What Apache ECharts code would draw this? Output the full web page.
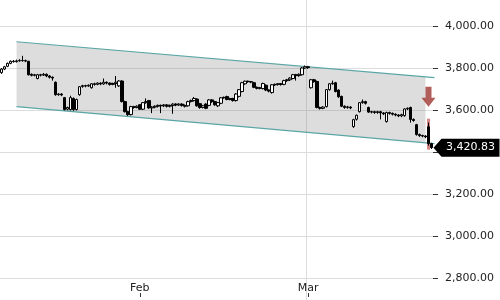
<!DOCTYPE html>
<html>
<head>
<meta charset="utf-8">
<script src="https://cdn.jsdelivr.net/npm/echarts@6/dist/echarts.min.js"></script>
<style>html,body{margin:0;padding:0;background:#fff}#c{width:500px;height:300px}</style>
</head>
<body>
<div id="c"></div>
<script>
// ---- data ----
// 12-hour candles, starting Jan 9
var startDate = [2021, 0, 9];
var candleCount = 144;
var categories = [];
(function(){
  for (var i = 0; i < candleCount; i++) {
    var d = new Date(Date.UTC(startDate[0], startDate[1], startDate[2], i * 12));
    var mm = ('0' + (d.getUTCMonth() + 1)).slice(-2), dd = ('0' + d.getUTCDate()).slice(-2), hh = ('0' + d.getUTCHours()).slice(-2);
    categories.push(d.getUTCFullYear() + '-' + mm + '-' + dd + ' ' + hh + ':00');
  }
})();
var monthNames = ['Jan','Feb','Mar','Apr','May','Jun','Jul','Aug','Sep','Oct','Nov','Dec'];

var opens = [3778,3795,3808,3822,3832,3830,3834,3836,3835,3832,3770,3765,3750,3768,3766,3770,3762,3756,3732,3673,
3676,3659,3604,3602,3655,3602,3673,3712,3716,3714,3706,3725,3722,3728,3724,3732,3728,3722,3726,3715,
3738,3640,3592,3578,3616,3612,3625,3604,3635,3645,3610,3614,3618,3622,3620,3624,3618,3622,3628,3624,
3628,3622,3620,3640,3645,3652,3630,3612,3628,3622,3648,3640,3620,3632,3658,3664,3650,3655,3645,3665,
3688,3725,3737,3735,3730,3708,3703,3702,3718,3695,3683,3720,3722,3725,3722,3740,3744,3750,3768,3764,
3768,3800,3806,3706,3744,3736,3612,3608,3616,3697,3725,3730,3695,3665,3618,3612,3614,3521,3556,3592,
3635,3640,3612,3590,3592,3588,3592,3586,3545,3588,3584,3580,3576,3572,3573,3605,3612,3555,3530,3483,
3478,3476,3520,3440];
var closes = [3795,3806,3822,3832,3830,3834,3836,3835,3833,3768,3765,3768,3768,3766,3770,3762,3756,3752,3673,3676,
3672,3602,3612,3659,3602,3650,3711,3716,3714,3718,3725,3722,3728,3724,3732,3728,3722,3726,3732,3738,
3640,3592,3578,3616,3612,3618,3604,3635,3640,3610,3614,3618,3622,3620,3624,3618,3622,3628,3624,3628,
3622,3618,3640,3645,3655,3620,3612,3620,3608,3648,3640,3625,3635,3658,3660,3650,3655,3645,3676,3697,
3730,3737,3735,3733,3708,3703,3706,3726,3695,3690,3720,3722,3725,3722,3740,3744,3752,3768,3764,3770,
3800,3806,3802,3744,3735,3612,3608,3614,3697,3725,3728,3688,3663,3618,3612,3615,3610,3554,3575,3635,
3640,3632,3590,3592,3588,3592,3586,3582,3588,3584,3580,3576,3572,3578,3605,3608,3555,3550,3483,3478,
3476,3472,3440,3420.83];
var lows = [3772,3790,3804,3818,3826,3826,3830,3830,3828,3764,3760,3760,3746,3760,3762,3756,3750,3740,3668,3668,
3666,3598,3598,3598,3596,3598,3668,3706,3708,3710,3702,3716,3718,3718,3720,3722,3716,3718,3706,3710,
3636,3588,3572,3574,3606,3608,3600,3600,3630,3606,3585,3608,3612,3585,3614,3612,3612,3582,3618,3620,
3616,3612,3616,3636,3640,3616,3606,3608,3604,3618,3634,3620,3614,3628,3654,3646,3646,3640,3640,3660,
3684,3720,3730,3728,3704,3698,3698,3698,3690,3684,3678,3714,3716,3716,3718,3734,3738,3746,3740,3758,
3764,3796,3796,3702,3730,3608,3602,3604,3612,3692,3720,3684,3658,3614,3606,3606,3604,3515,3550,3588,
3630,3626,3586,3584,3582,3582,3555,3576,3540,3578,3574,3570,3566,3566,3568,3600,3540,3544,3478,3472,
3470,3466,3430,3414];
var highs = [3800,3810,3826,3836,3838,3840,3842,3858,3840,3834,3774,3772,3772,3772,3776,3774,3766,3760,3736,3680,
3680,3662,3616,3668,3660,3654,3714,3720,3720,3722,3728,3730,3732,3732,3750,3736,3732,3730,3762,3742,
3742,3644,3596,3620,3620,3622,3628,3638,3655,3648,3618,3622,3626,3626,3628,3628,3626,3632,3632,3632,
3632,3626,3644,3650,3662,3656,3634,3624,3632,3652,3652,3644,3638,3662,3664,3668,3658,3658,3680,3700,
3734,3740,3740,3738,3734,3712,3710,3730,3722,3698,3724,3726,3728,3728,3744,3748,3756,3772,3772,3774,
3804,3812,3810,3748,3748,3740,3616,3618,3700,3728,3740,3734,3698,3668,3622,3620,3618,3558,3578,3638,
3650,3644,3616,3596,3596,3596,3596,3590,3592,3592,3588,3584,3580,3582,3608,3612,3616,3560,3534,3488,
3482,3480,3540,3444];

// trend channel (category index, price)
var channelStartIdx = 4.5, channelEndIdx = 143.5, channelFillEndIdx = 140.5;
var channelUpper = [3925, 3754];
var channelLower = [3616, 3440];

// signal marks
var signalIdx = 142;
var signalArrowPrice = 3663;
var signalBarPrice = 3485;
var lastPrice = 3420.83;

// y axis ticks
var yMin = 2600, yMax = 4200, yStep = 200;

// ---- chart ----
var candleData = opens.map(function(o, i){ return [o, closes[i], lows[i], highs[i]]; });
function isMonthStart(idx, val){ return /-01 00:00$/.test(categories[idx]); }
var FONT = 'DejaVu Sans';

var chart = echarts.init(document.getElementById('c'), null, {renderer: 'canvas'});
chart.setOption({
  animation: false,
  backgroundColor: '#fff',
  grid: {left: 0, right: 67, top: -16, bottom: -20, containLabel: false, outerBoundsMode: 'none'},
  xAxis: {
    type: 'category', data: categories, boundaryGap: true, position: 'bottom', offset: -27,
    axisLine: {show: false},
    axisTick: {show: true, inside: false, length: 4, alignWithLabel: true, interval: isMonthStart, lineStyle: {color: '#333'}},
    axisLabel: {inside: true, margin: -1, interval: isMonthStart, color: '#222', fontSize: 11, fontFamily: FONT,
      formatter: function(v){ return monthNames[parseInt(v.slice(5,7),10)-1]; }},
    splitLine: {show: true, showMinLine: false, showMaxLine: false, interval: isMonthStart, lineStyle: {color: '#dcdcdc', width: 1}}
  },
  yAxis: {
    type: 'value', position: 'right', min: yMin, max: yMax, interval: yStep, scale: true,
    axisLine: {show: false},
    axisTick: {show: true, length: 5, lineStyle: {color: '#333'}},
    axisLabel: {margin: 12, color: '#222', fontSize: 11, fontFamily: FONT,
      formatter: function(v){ return v.toLocaleString('en-US', {minimumFractionDigits: 2, maximumFractionDigits: 2}); }},
    splitLine: {show: true, lineStyle: {color: '#dcdcdc', width: 1}}
  },
  series: [
    {
      type: 'custom', name: 'channel', z: 1, silent: true,
      data: [[channelStartIdx, channelUpper[0]]],
      renderItem: function(params, api){
        var span = channelEndIdx - channelStartIdx;
        var f = (channelFillEndIdx - channelStartIdx) / span;
        var uS = api.coord([channelStartIdx, channelUpper[0]]);
        var uE = api.coord([channelEndIdx, channelUpper[1]]);
        var lS = api.coord([channelStartIdx, channelLower[0]]);
        var lE = api.coord([channelEndIdx, channelLower[1]]);
        var uF = [uS[0] + (uE[0]-uS[0])*f, uS[1] + (uE[1]-uS[1])*f];
        var lF = [lS[0] + (lE[0]-lS[0])*f, lS[1] + (lE[1]-lS[1])*f];
        return {type: 'group', children: [
          {type: 'polygon', shape: {points: [uS, uF, lF, lS]}, style: {fill: 'rgba(128,128,128,0.27)'}},
          {type: 'line', shape: {x1: uS[0], y1: uS[1], x2: uE[0], y2: uE[1]}, style: {stroke: '#5aa5a5', lineWidth: 1.2}},
          {type: 'line', shape: {x1: lS[0], y1: lS[1], x2: lE[0], y2: lE[1]}, style: {stroke: '#5aa5a5', lineWidth: 1.2}}
        ]};
      }
    },
    {
      type: 'scatter', name: 'signalBar', z: 2, silent: true,
      symbol: 'rect', symbolSize: [3, 31],
      itemStyle: {color: 'rgba(185,55,55,0.75)'},
      data: [[signalIdx, signalBarPrice]]
    },
    {
      type: 'candlestick', name: 'price', z: 3,
      barWidth: 3,
      itemStyle: {color: '#ffffff', color0: '#000000', borderColor: '#000000', borderColor0: '#000000', borderWidth: 1},
      data: candleData,
      markPoint: {
        silent: true,
        data: [{
          coord: [candleCount - 1, lastPrice],
          symbol: 'path://M0,9 L8,0 L66,0 L66,18 L8,18 Z',
          symbolSize: [66, 18], symbolKeepAspect: false, symbolOffset: [35, 0],
          itemStyle: {color: '#000'},
          label: {show: true, position: 'inside', offset: [4, 0], color: '#fff', fontSize: 11, fontFamily: FONT,
            formatter: function(){ return lastPrice.toLocaleString('en-US', {minimumFractionDigits: 2}); }}
        }]
      }
    },
    {
      type: 'scatter', name: 'signalArrow', z: 4, silent: true,
      symbol: 'path://M4,0 L10,0 L10,11 L14,11 L7,20 L0,11 L4,11 Z',
      symbolSize: [14, 20], symbolKeepAspect: false,
      itemStyle: {color: '#9e3530'},
      data: [[signalIdx, signalArrowPrice]]
    }
  ]
});
</script>
</body>
</html>
